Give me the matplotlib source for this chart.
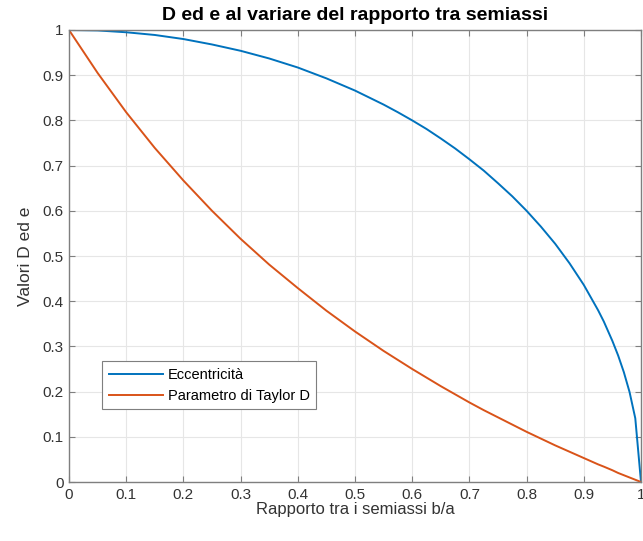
import matplotlib
matplotlib.use('Agg')
import matplotlib.pyplot as plt

plt.rcParams['font.family'] = ['Liberation Sans', 'DejaVu Sans']

# values
ratio = [0.0, 0.05, 0.1, 0.15, 0.2, 0.25, 0.3, 0.35, 0.4, 0.45, 0.5, 0.55, 0.575,
         0.6, 0.625, 0.65, 0.675, 0.7, 0.725, 0.75, 0.775, 0.8, 0.825, 0.85, 0.875,
         0.9, 0.925, 0.935, 0.95, 0.96, 0.97, 0.98, 0.99, 1.0]
ecc = [1.0, 0.999, 0.995, 0.989, 0.980, 0.968, 0.954, 0.937, 0.917, 0.893, 0.866,
       0.835, 0.818, 0.800, 0.781, 0.760, 0.738, 0.714, 0.689, 0.661, 0.632,
       0.600, 0.565, 0.527, 0.484, 0.436, 0.380, 0.355, 0.312, 0.280, 0.243,
       0.199, 0.141, 0.0]
taylor = [1.0, 0.905, 0.818, 0.739, 0.667, 0.600, 0.538, 0.481, 0.429, 0.379, 0.333,
          0.290, 0.270, 0.250, 0.231, 0.212, 0.194, 0.176, 0.159, 0.143, 0.127,
          0.111, 0.096, 0.081, 0.067, 0.053, 0.039, 0.034, 0.026, 0.020, 0.015,
          0.010, 0.005, 0.0]

xticks = [0, 0.1, 0.2, 0.3, 0.4, 0.5, 0.6, 0.7, 0.8, 0.9, 1]
yticks = [0, 0.1, 0.2, 0.3, 0.4, 0.5, 0.6, 0.7, 0.8, 0.9, 1]
tick_labels = ['0', '0.1', '0.2', '0.3', '0.4', '0.5', '0.6', '0.7', '0.8', '0.9', '1']

fig = plt.figure(figsize=(6.43, 5.41), dpi=100)
ax = fig.add_axes([69/643, 59/541, 572/643, 452/541])

ax.plot(ratio, ecc, color='#0072BD', lw=1.4, label='Eccentricità')
ax.plot(ratio, taylor, color='#D95319', lw=1.4, label='Parametro di Taylor D')

ax.set_xlim(0, 1)
ax.set_ylim(0, 1)
ax.set_xticks(xticks)
ax.set_yticks(yticks)
ax.set_xticklabels(tick_labels)
ax.set_yticklabels(tick_labels)
ax.grid(True, color='#e6e6e6', lw=0.8)
ax.set_axisbelow(True)
ax.tick_params(direction='in', top=True, right=True, labelsize=11, labelcolor='#333333',
               color='#7f7f7f', length=4, pad=4)
for s in ax.spines.values():
    s.set_color('#7f7f7f')
    s.set_linewidth(1.0)

ax.set_xlabel('Rapporto tra i semiassi b/a', fontsize=12, color='#333333', labelpad=0)
ax.set_ylabel('Valori D ed e', fontsize=12.5, color='#333333', labelpad=7)
ax.set_title('D ed e al variare del rapporto tra semiassi', fontsize=14, fontweight='bold', pad=7)

leg = ax.legend(loc='lower left', bbox_to_anchor=(0.045, 0.145), fontsize=10.5,
                fancybox=False, framealpha=1, edgecolor='#7f7f7f',
                handlelength=3.7, handletextpad=0.35, borderpad=0.45, labelspacing=0.45)
leg.get_frame().set_linewidth(0.8)

fig.savefig('out.png', dpi=100)
